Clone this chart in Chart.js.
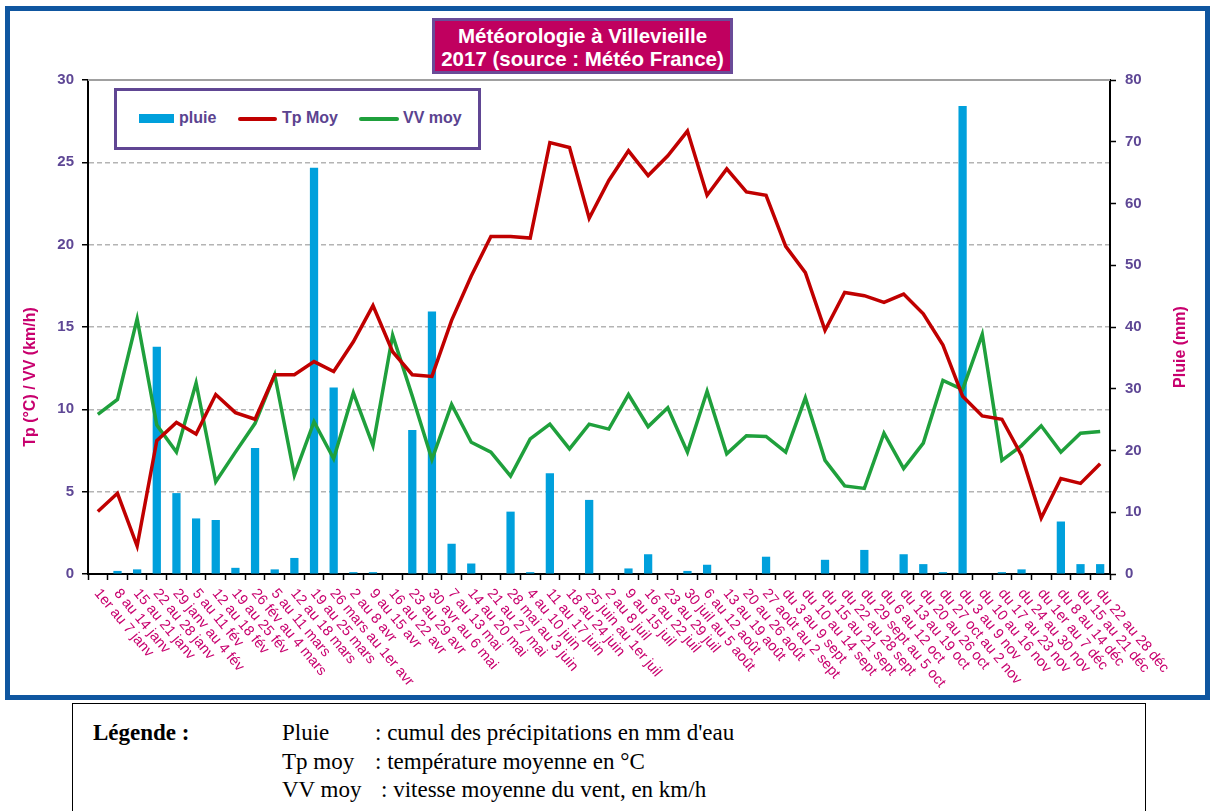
<!DOCTYPE html>
<html lang="fr">
<head>
<meta charset="utf-8">
<title>Météorologie à Villevieille 2017</title>
<script src="https://cdn.jsdelivr.net/npm/chart.js@4/dist/chart.umd.min.js"></script>
<style>
  body { margin: 0; background: #fff; width: 1210px; height: 811px; overflow: hidden; position: relative; font-family: "Liberation Sans", Arial, sans-serif; }
  #cadre { position: absolute; left: 5px; top: 6px; width: 1205px; height: 694px; border: 5px solid #0f56a0; box-sizing: border-box; }
  #graphique { position: absolute; left: 0; top: 0; }
  #titre { position: absolute; left: 432px; top: 18px; width: 301px; height: 56px; box-sizing: border-box;
           background: #c0005f; border: 3px solid #6a4b98; color: #fff; font-weight: bold; font-size: 20.5px;
           text-align: center; line-height: 23px; padding-top: 3px; white-space: nowrap; }
  #legende { position: absolute; left: 114px; top: 88px; width: 367px; height: 62px; box-sizing: border-box;
             border: 3px solid #604693; background: #fff; }
  #legende span { position: absolute; }
  #legende .txt { color: #5b4390; font-weight: bold; font-size: 16px; top: 18px; }
  #note { position: absolute; left: 72px; top: 703px; width: 1074px; height: 130px; box-sizing: border-box;
          border: 1px solid #000; font-family: "Liberation Serif", "Times New Roman", serif; font-size: 23px; color: #000; }
  #note div { position: absolute; white-space: nowrap; }
</style>
</head>
<body>
<div id="cadre"></div>
<canvas id="graphique" width="1210" height="700"></canvas>
<div id="titre">Météorologie à Villevieille<br>2017 (source : Météo France)</div>
<div id="legende">
  <span style="left:22px; top:23px; width:35px; height:9px; background:#00a0dc;"></span>
  <span class="txt" style="left:62px;">pluie</span>
  <span style="left:121px; top:26px; width:39px; height:4px; border-radius:2px; background:#c00000;"></span>
  <span class="txt" style="left:165px;">Tp Moy</span>
  <span style="left:242px; top:26px; width:40px; height:4px; border-radius:2px; background:#1fa03c;"></span>
  <span class="txt" style="left:286px;">VV moy</span>
</div>
<div id="note">
  <div style="left:20px; top:16px; font-weight:bold;">Légende :</div>
  <div style="left:209px; top:16px;">Pluie</div>
  <div style="left:302px; top:16px;">: cumul des précipitations en mm d'eau</div>
  <div style="left:209px; top:45px;">Tp moy</div>
  <div style="left:302px; top:45px;">: température moyenne en °C</div>
  <div style="left:209px; top:73px;">VV moy</div>
  <div style="left:308px; top:73px;">: vitesse moyenne du vent, en km/h</div>
</div>
<script>
// Semaines 2017
const semaines = [
  '1er au 7 janv', '8 au 14 janv', '15 au 21 janv', '22 au 28 janv', '29 janv au 4 fév',
  '5 au 11 fév', '12 au 18 fév', '19 au 25 fév', '26 fév au 4 mars', '5 au 11 mars',
  '12 au 18 mars', '19 au 25 mars', '26 mars au 1er avr', '2 au 8 avr', '9 au 15 avr',
  '16 au 22 avr', '23 au 29 avr', '30 avr au 6 mai', '7 au 13 mai', '14 au 20 mai',
  '21 au 27 mai', '28 mai au 3 juin', '4 au 10 juin', '11 au 17 juin', '18 au 24 juin',
  '25 juin au 1er juil', '2 au 8 juil', '9 au 15 juil', '16 au 22 juil', '23 au 29 juil',
  '30 juil au 5 août', '6 au 12 août', '13 au 19 août', '20 au 26 août', '27 août au 2 sept',
  'du 3 au 9 sept', 'du 10 au 14 sept', 'du 15 au 21 sept', 'du 22 au 28 sept', 'du 29 sept au 5 oct',
  'du 6 au 12 oct', 'du 13 au 19 oct', 'du 20 au 26 oct', 'du 27 oct au 2 nov', 'du 3 au 9 nov',
  'du 10 au 16 nov', 'du 17 au 23 nov', 'du 24 au 30 nov', 'du 1er au 7 déc', 'du 8 au 14 déc',
  'du 15 au 21 déc', 'du 22 au 28 déc'
];

// pluie (mm)
const pluie = [
  0, 0.5, 0.75, 36.8, 13.1, 9.0, 8.75, 1.0, 20.4, 0.75,
  2.6, 65.8, 30.2, 0.3, 0.3, 0, 23.3, 42.5, 4.9, 1.7,
  0, 10.1, 0.3, 16.3, 0, 12.0, 0, 0.9, 3.2, 0,
  0.5, 1.5, 0, 0, 2.8, 0, 0, 2.3, 0, 3.9,
  0, 3.2, 1.6, 0.3, 75.8, 0, 0.3, 0.75, 0, 8.5,
  1.6, 1.6
];

// température moyenne (°C)
const tpMoy = [
  3.8, 4.9, 1.7, 8.1, 9.2, 8.5, 10.9, 9.8, 9.4, 12.1,
  12.1, 12.9, 12.3, 14.1, 16.3, 13.5, 12.1, 12.0, 15.4, 18.1,
  20.5, 20.5, 20.4, 26.2, 25.9, 21.6, 23.9, 25.7, 24.2, 25.4,
  26.9, 23.0, 24.6, 23.2, 23.0, 19.9, 18.3, 14.8, 17.1, 16.9,
  16.5, 17.0, 15.8, 13.9, 10.8, 9.6, 9.4, 7.2, 3.4, 5.8,
  5.5, 6.7
];

// vitesse moyenne du vent (km/h)
const vvMoy = [
  9.7, 10.6, 15.5, 9.05, 7.4, 11.6, 5.6, 7.4, 9.15, 12.1,
  6.0, 9.25, 7.0, 11.0, 7.8, 14.5, 10.8, 6.95, 10.3, 8.0,
  7.4, 5.95, 8.2, 9.1, 7.6, 9.1, 8.8, 10.9, 8.95, 10.1,
  7.4, 11.1, 7.3, 8.4, 8.35, 7.4, 10.7, 6.9, 5.35, 5.2,
  8.55, 6.4, 7.95, 11.75, 11.2, 14.55, 6.9, 7.8, 9.0, 7.4,
  8.55, 8.65
];

const violet = '#5e4795';
const magenta = '#c8006e';
const policeAxe = { family: '"Liberation Sans", Arial, sans-serif', size: 15, weight: 'bold' };

// étiquettes obliques, titres d'axes et bord haut
const decor = {
  id: 'decor',
  afterDraw(chart) {
    const { ctx, chartArea, scales } = chart;
    ctx.save();
    ctx.strokeStyle = '#a0a0a0';
    ctx.lineWidth = 2;
    ctx.beginPath();
    ctx.moveTo(chartArea.left, chartArea.top);
    ctx.lineTo(chartArea.right, chartArea.top);
    ctx.stroke();

    ctx.fillStyle = magenta;
    ctx.font = '14.5px "Liberation Sans", Arial, sans-serif';
    ctx.textAlign = 'left';
    ctx.textBaseline = 'middle';
    semaines.forEach((s, i) => {
      const x = scales.x.getPixelForValue(i);
      ctx.save();
      ctx.translate(x - 1, chartArea.bottom + 17);
      ctx.rotate(50 * Math.PI / 180);
      ctx.fillText(s, 0, 0);
      ctx.restore();
    });

    ctx.font = 'bold 16px "Liberation Sans", Arial, sans-serif';
    ctx.textAlign = 'center';
    ctx.save();
    ctx.translate(31, 377);
    ctx.rotate(-Math.PI / 2);
    ctx.fillText('Tp (°C) / VV (km/h)', 0, 0);
    ctx.restore();
    ctx.save();
    ctx.translate(1181, 347);
    ctx.rotate(-Math.PI / 2);
    ctx.fillText('Pluie (mm)', 0, 0);
    ctx.restore();
    ctx.restore();
  }
};

new Chart(document.getElementById('graphique'), {
  data: {
    labels: semaines,
    datasets: [{
      type: 'bar',
      label: 'pluie',
      data: pluie,
      yAxisID: 'y2',
      backgroundColor: '#00a0dc',
      categoryPercentage: 1,
      barPercentage: 0.42,
      order: 3
    }, {
      type: 'line',
      label: 'Tp Moy',
      data: tpMoy,
      yAxisID: 'y',
      borderColor: '#c00000',
      borderWidth: 3.5,
      pointRadius: 0,
      tension: 0,
      order: 1
    }, {
      type: 'line',
      label: 'VV moy',
      data: vvMoy,
      yAxisID: 'y',
      borderColor: '#1fa03c',
      borderWidth: 3.5,
      pointRadius: 0,
      tension: 0,
      order: 2
    }]
  },
  options: {
    responsive: false,
    animation: false,
    layout: { padding: { top: 80, left: 0, right: 0, bottom: 0 } },
    plugins: {
      legend: { display: false },
      title: { display: false },
      tooltip: { enabled: false }
    },
    scales: {
      x: {
        offset: true,
        ticks: { display: false },
        grid: { offset: true, drawOnChartArea: false, tickLength: 6, tickColor: '#000', tickWidth: 1.5 },
        border: { color: '#000', width: 2 },
        afterFit(s) { s.height = 126; }
      },
      y: {
        position: 'left',
        min: 0,
        max: 30,
        ticks: { stepSize: 5, color: violet, font: policeAxe, padding: 8 },
        grid: { color: '#b4b4b4', lineWidth: 1.5, tickLength: 6, tickColor: '#000', tickWidth: 1.5, tickBorderDash: [] },
        border: { color: '#000', width: 2, dash: [5, 3] },
        afterFit(s) { s.width = 88; }
      },
      y2: {
        position: 'right',
        min: 0,
        max: 80,
        ticks: { stepSize: 10, color: violet, font: policeAxe, padding: 9 },
        grid: { drawOnChartArea: false, tickLength: 6, tickColor: '#000', tickWidth: 1.5 },
        border: { color: '#000', width: 2 },
        afterFit(s) { s.width = 100; }
      }
    }
  },
  plugins: [decor]
});
</script>
</body>
</html>
